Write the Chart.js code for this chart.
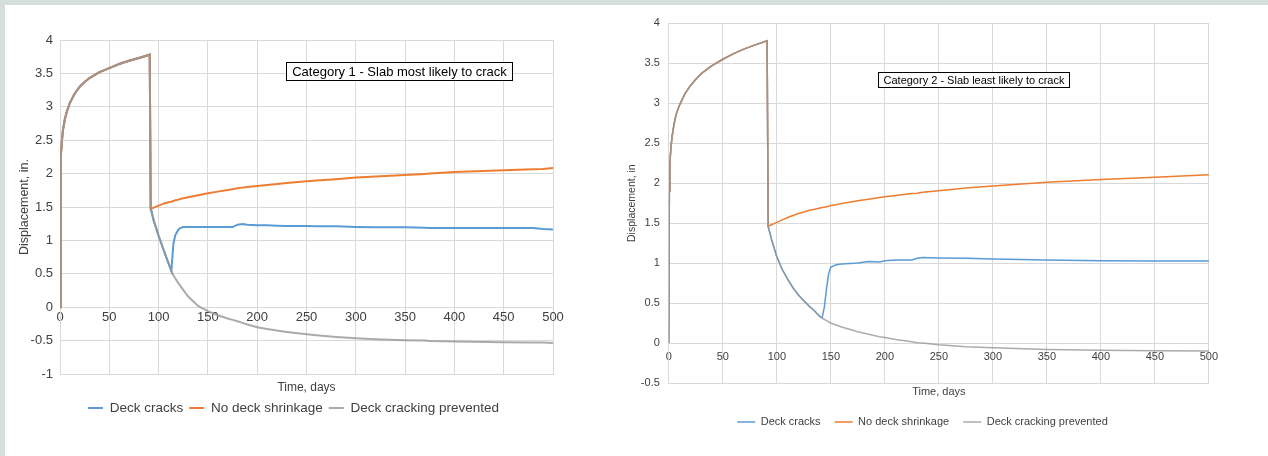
<!DOCTYPE html>
<html>
<head>
<meta charset="utf-8">
<title>Deck displacement vs time</title>
<script src="https://cdn.jsdelivr.net/npm/chart.js@4.4.1/dist/chart.umd.min.js"></script>
<style>
  html, body { margin: 0; padding: 0; }
  body { width: 1268px; height: 456px; background: #d5dedd; position: relative; overflow: hidden; }
  .sheet { position: absolute; left: 5px; top: 5px; right: 0; bottom: 0; background: #fff; }
  .panel { position: absolute; top: 5px; }
  #cat1Chart { left: 5px; }
  #cat2Chart { left: 620px; }
</style>
</head>
<body>
<div class="sheet"></div>
<canvas id="cat1Chart" class="panel" width="577" height="451"></canvas>
<canvas id="cat2Chart" class="panel" width="605" height="451"></canvas>

<script>
'use strict';

/* ── Data ─────────────────────────────────────────────────────────────────── */

const seriesNames = ['Deck cracks', 'No deck shrinkage', 'Deck cracking prevented'];
const xTicks = [0, 500, 50];            // min, max, step (days)

// Category 1 — slab most likely to crack
const cat1Days = [0, 0.5, 1, 2, 3, 5, 7, 10, 15, 20, 25, 30, 40, 50, 60, 70, 80, 91,
    92, 95, 100, 105, 110, 113, 114, 115, 117, 120, 122, 125, 130, 140, 150, 160, 170, 175,
    180, 185, 190, 200, 210, 220, 230, 250, 260, 280, 300, 320, 350, 370, 375, 400, 450, 480, 490, 500];
// loading curve shared by all three series (day 0 .. 91)
const cat1Loading = [0, 1.6, 2.25, 2.5, 2.65, 2.82, 2.93, 3.06, 3.2, 3.3, 3.37, 3.43, 3.52, 3.58, 3.64, 3.69, 3.73, 3.78];
// day 92 onwards
const cat1DeckCracks = [1.48, 1.30, 1.07, 0.86, 0.66, 0.54, 0.75, 0.95, 1.08, 1.16, 1.185, 1.2, 1.2, 1.2, 1.2, 1.2, 1.2, 1.2,
    1.235, 1.245, 1.235, 1.225, 1.225, 1.22, 1.215, 1.215, 1.21, 1.21, 1.2, 1.195, 1.195, 1.19, 1.185, 1.185, 1.185, 1.185, 1.17, 1.165];
const cat1NoShrinkage = [1.47, 1.49, 1.52, 1.55, 1.57, 1.58, 1.585, 1.59, 1.60, 1.61, 1.62, 1.63, 1.645, 1.675, 1.705, 1.73, 1.755, 1.765,
    1.78, 1.79, 1.80, 1.815, 1.83, 1.845, 1.86, 1.885, 1.895, 1.915, 1.94, 1.955, 1.98, 1.995, 2.0, 2.025, 2.05, 2.065, 2.07, 2.085];
const cat1Prevented = [1.48, 1.30, 1.07, 0.86, 0.66, 0.54, 0.51, 0.48, 0.43, 0.36, 0.32, 0.26, 0.16, 0.02, -0.06, -0.12, -0.17, -0.19,
    -0.21, -0.235, -0.26, -0.30, -0.325, -0.35, -0.37, -0.405, -0.42, -0.445, -0.465, -0.48, -0.495, -0.50, -0.505, -0.515, -0.525, -0.53, -0.53, -0.535];
const cat1YTicks = [-1, 4, 0.5];

// Category 2 — slab least likely to crack
const cat2Days = [0, 0.5, 1, 2, 3, 5, 7, 10, 15, 20, 25, 30, 40, 50, 60, 70, 80, 91,
    92, 95, 100, 105, 110, 115, 120, 125, 130, 135, 140, 142, 144, 146, 148, 150, 155, 160,
    175, 185, 195, 200, 210, 225, 230, 235, 250, 275, 300, 350, 400, 450, 500];
const cat2Loading = [0, 1.9, 2.25, 2.45, 2.58, 2.75, 2.87, 2.98, 3.12, 3.22, 3.3, 3.37, 3.47, 3.55, 3.62, 3.68, 3.73, 3.78];
const cat2DeckCracks = [1.46, 1.30, 1.08, 0.92, 0.80, 0.69, 0.60, 0.53, 0.46, 0.40, 0.33, 0.32, 0.45, 0.68, 0.87, 0.95, 0.98, 0.99,
    1.0, 1.02, 1.015, 1.03, 1.04, 1.04, 1.06, 1.07, 1.065, 1.06, 1.05, 1.04, 1.03, 1.025, 1.025];
const cat2NoShrinkage = [1.46, 1.48, 1.51, 1.54, 1.57, 1.595, 1.62, 1.64, 1.66, 1.675, 1.69, 1.695, 1.70, 1.705, 1.71, 1.72, 1.73, 1.745,
    1.78, 1.80, 1.82, 1.83, 1.845, 1.87, 1.875, 1.885, 1.905, 1.94, 1.965, 2.01, 2.045, 2.075, 2.105];
const cat2Prevented = [1.46, 1.30, 1.08, 0.92, 0.80, 0.69, 0.60, 0.53, 0.46, 0.40, 0.33, 0.31, 0.295, 0.28, 0.265, 0.25, 0.225, 0.20,
    0.14, 0.11, 0.08, 0.07, 0.045, 0.015, 0.005, 0.0, -0.02, -0.045, -0.06, -0.08, -0.09, -0.095, -0.10];
const cat2YTicks = [-0.5, 4, 0.5];

/* ── Styling ──────────────────────────────────────────────────────────────── */

const FONT = '"Liberation Sans", Arial, sans-serif';
const INK = '#404040';
const GRID = '#d9d9d9';
const COLORS = { blue: '#5b9bd5', orange: '#ed7d31', gray: 'rgba(150,150,150,0.8)' };

/* ── Text box drawn in data space (e.g. "Category 1 - ...") ───────────────── */

const noteBox = {
    id: 'noteBox',
    afterDatasetsDraw(chart, args, opts) {
        if (!opts.text) return;
        const { ctx, scales } = chart;
        const cx = scales.x.getPixelForValue(opts.x);
        const cy = scales.y.getPixelForValue(opts.y);
        ctx.save();
        ctx.font = `${opts.size}px ${FONT}`;
        const w = Math.round(ctx.measureText(opts.text).width + opts.padX * 2);
        const h = opts.h;
        const left = Math.round(cx - w / 2) + 0.5;
        const top = Math.round(cy - h / 2) + 0.5;
        ctx.fillStyle = '#fff';
        ctx.fillRect(left, top, w, h);
        ctx.strokeStyle = '#000';
        ctx.lineWidth = 1;
        ctx.strokeRect(left, top, w, h);
        ctx.fillStyle = '#000';
        ctx.textAlign = 'center';
        ctx.textBaseline = 'middle';
        ctx.fillText(opts.text, left + w / 2, top + h / 2 + 0.5);
        ctx.restore();
    },
};

/* ── Chart builder ───────────────────────────────────────────────────────── */

function toPoints(days, loading, rest) {
    return loading.concat(rest).map((v, i) => ({ x: days[i], y: v }));
}

/**
 * Build one displacement-vs-time panel.
 * Gray is drawn on top (order 0), then orange, then blue underneath.
 */
function makeChart(canvasId, s) {
    const lineBase = { borderWidth: s.lineWidth, pointRadius: 0, fill: false, tension: 0 };
    const datasets = [
        { label: seriesNames[0], data: toPoints(s.days, s.loading, s.cracks), borderColor: COLORS.blue, order: 2, ...lineBase },
        { label: seriesNames[1], data: toPoints(s.days, s.loading, s.noShrink), borderColor: COLORS.orange, order: 1, ...lineBase },
        { label: seriesNames[2], data: toPoints(s.days, s.loading, s.prevented), borderColor: COLORS.gray, order: 0, ...lineBase },
    ];

    return new Chart(document.getElementById(canvasId), {
        type: 'line',
        data: { datasets },
        plugins: [noteBox],
        options: {
            responsive: false,
            animation: false,
            devicePixelRatio: 1,
            layout: { padding: { top: s.padTop, bottom: s.padBottom, left: 0, right: 0 } },
            plugins: {
                legend: {
                    position: 'bottom',
                    labels: {
                        usePointStyle: true,
                        pointStyle: 'line',
                        pointStyleWidth: s.legendLine,
                        padding: s.legendPad,
                        color: INK,
                        font: { family: FONT, size: s.legendSize },
                        sort: (a, b) => a.datasetIndex - b.datasetIndex,
                    },
                },
                tooltip: { enabled: false },
                noteBox: { text: s.note, x: s.noteX, y: s.noteY, size: s.noteSize, h: s.noteH, padX: s.notePadX },
            },
            scales: {
                x: {
                    type: 'linear', min: xTicks[0], max: xTicks[1],
                    ticks: { display: false, stepSize: xTicks[2] },
                    grid: { color: GRID, drawTicks: false },
                    border: { color: GRID },
                    title: {
                        display: true, text: 'Time, days', color: INK,
                        font: { family: FONT, size: s.xTitleSize },
                        padding: { top: 0, bottom: s.xTitlePadB },
                    },
                    afterFit: sc => { sc.height = s.xBand; },
                },
                // tick labels sit on the zero line, Excel style
                x2: {
                    axis: 'x', type: 'linear', position: { y: 0 }, min: xTicks[0], max: xTicks[1],
                    ticks: { stepSize: xTicks[2], padding: s.xTickPad, color: INK, maxRotation: 0, autoSkip: false,
                        font: { family: FONT, size: s.tickSize } },
                    grid: { display: false, drawTicks: false },
                    border: { display: false },
                    afterFit: sc => { sc.height = 0; },
                },
                y: {
                    type: 'linear', min: s.yTicks[0], max: s.yTicks[1],
                    ticks: { stepSize: s.yTicks[2], padding: s.yTickPad, color: INK, font: { family: FONT, size: s.tickSize },
                        callback: v => String(v) },
                    grid: { color: GRID, drawTicks: false },
                    border: { color: GRID },
                    title: {
                        display: true, text: s.yTitle, color: INK,
                        font: { family: FONT, size: s.yTitleSize },
                        padding: { top: s.yTitlePadT, bottom: 0 },
                    },
                    afterFit: sc => { sc.width = s.yBand; },
                },
                // empty right band so the plot stops short of the legend's right edge
                pad: {
                    axis: 'y', type: 'linear', position: 'right',
                    ticks: { display: false }, grid: { display: false, drawTicks: false }, border: { display: false },
                    afterFit: sc => { sc.width = s.rightBand; },
                },
            },
        },
    });
}

/* ── Panels ──────────────────────────────────────────────────────────────── */

makeChart('cat1Chart', {
    days: cat1Days, loading: cat1Loading,
    cracks: cat1DeckCracks, noShrink: cat1NoShrinkage, prevented: cat1Prevented,
    yTicks: cat1YTicks,
    lineWidth: 2,
    padTop: 35, padBottom: 31.25,
    legendLine: 15, legendPad: 6, legendSize: 13.5,
    xTitleSize: 12, xTitlePadB: 0, xBand: 21.25, xTickPad: 2.5, tickSize: 13,
    yTickPad: 7, yTitle: 'Displacement, in.', yTitleSize: 12.5, yTitlePadT: 12.5, yBand: 55,
    rightBand: 29,
    note: 'Category 1 - Slab most likely to crack', noteX: 344, noteY: 3.535, noteSize: 13, noteH: 18, notePadX: 5.5,
});

makeChart('cat2Chart', {
    days: cat2Days, loading: cat2Loading,
    cracks: cat2DeckCracks, noShrink: cat2NoShrinkage, prevented: cat2Prevented,
    yTicks: cat2YTicks,
    lineWidth: 1.5,
    padTop: 18.3, padBottom: 18.5,
    legendLine: 18, legendPad: 14, legendSize: 11,
    xTitleSize: 11, xTitlePadB: 3.9, xBand: 19.5, xTickPad: 6.9, tickSize: 11,
    yTickPad: 9, yTitle: 'Displacement, in', yTitleSize: 10.5, yTitlePadT: 5.7, yBand: 48.8,
    rightBand: 15,
    note: 'Category 2 - Slab least likely to crack', noteX: 282, noteY: 3.3, noteSize: 11, noteH: 15, notePadX: 5,
});
</script>
</body>
</html>
